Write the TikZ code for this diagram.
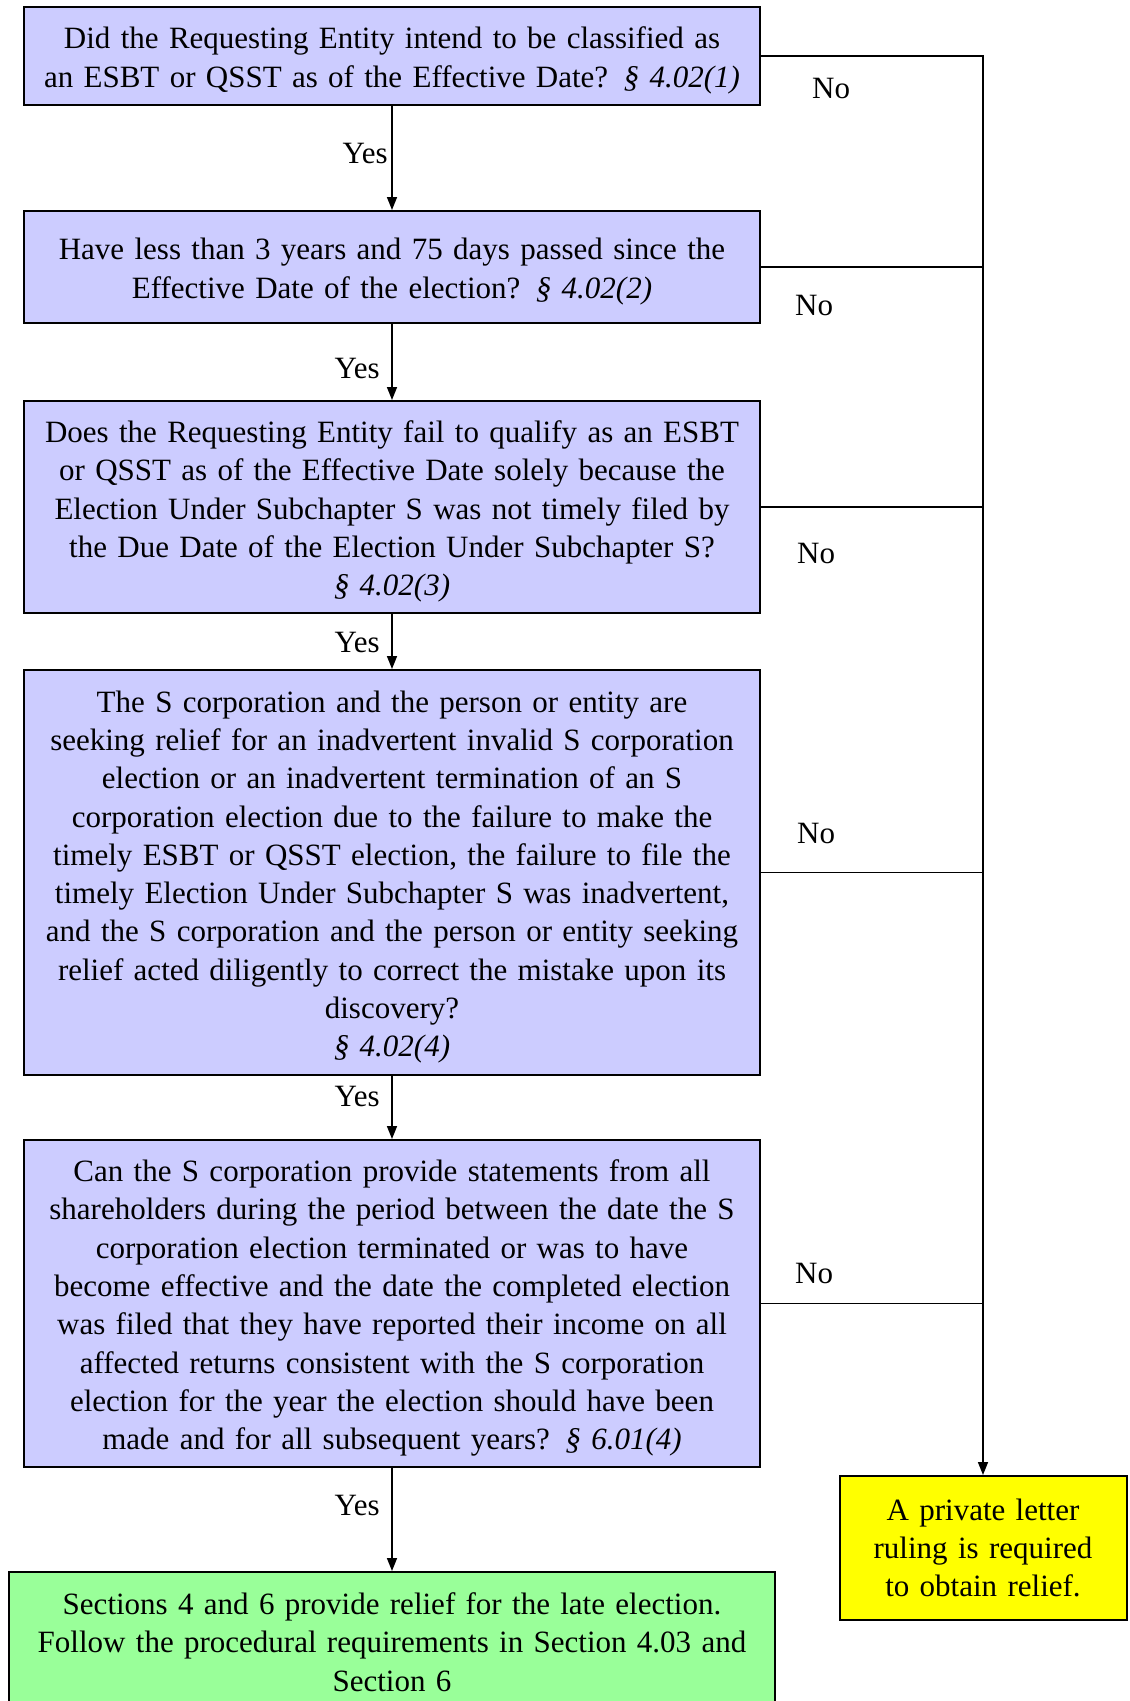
\documentclass[tikz,border=0pt]{standalone}
\usepackage{fontspec}
\setmainfont{Liberation Serif}
\usetikzlibrary{arrows.meta}
\definecolor{qblue}{HTML}{CCCCFF}
\definecolor{okgreen}{HTML}{99FF99}
\definecolor{plryellow}{HTML}{FFFF00}
\tikzset{
  txt/.style={font=\fontsize{31}{38.3}\selectfont},
  qbox/.style={draw=black, line width=2pt, fill=qblue, minimum width=736pt, inner sep=0pt},
  qtext/.style={txt, text width=730pt, align=center, inner sep=0pt, yshift=-4.5pt},
  endbox/.style={txt, draw=black, line width=2pt, align=center, inner sep=0pt},
  lbl/.style={txt, inner sep=0pt},
  conn/.style={draw=black, line width=1.6pt},
  arr/.style={conn, -{Triangle[length=13pt,width=10pt]}}
}
\begin{document}
\begin{tikzpicture}[x=1pt,y=-1pt]
\useasboundingbox (0,0) rectangle (1130,1701);
\node[qbox, minimum height=98pt] (b1) at (392,56) {};
\node[qtext] (t1) at (b1.center) {Did the Requesting Entity intend to be classified as\\an ESBT or QSST as of the Effective Date? \textit{§ 4.02(1)}};
\node[qbox, minimum height=112pt] (b2) at (392,267) {};
\node[qtext] (t2) at (b2.center) {Have less than 3 years and 75 days passed since the\\Effective Date of the election? \textit{§ 4.02(2)}};
\node[qbox, minimum height=212pt] (b3) at (392,507) {};
\node[qtext] (t3) at (b3.center) {Does the Requesting Entity fail to qualify as an ESBT\\or QSST as of the Effective Date solely because the\\Election Under Subchapter S was not timely filed by\\the Due Date of the Election Under Subchapter S?\\\textit{§ 4.02(3)}};
\node[qbox, minimum height=405pt] (b4) at (392,872.5) {};
\node[qtext] (t4) at (b4.center) {The S corporation and the person or entity are\\seeking relief for an inadvertent invalid S corporation\\election or an inadvertent termination of an S\\corporation election due to the failure to make the\\timely ESBT or QSST election, the failure to file the\\timely Election Under Subchapter S was inadvertent,\\and the S corporation and the person or entity seeking\\relief acted diligently to correct the mistake upon its\\discovery?\\\textit{§ 4.02(4)}};
\node[qbox, minimum height=327pt] (b5) at (392,1303.5) {};
\node[qtext] (t5) at (b5.center) {Can the S corporation provide statements from all\\shareholders during the period between the date the S\\corporation election terminated or was to have\\become effective and the date the completed election\\was filed that they have reported their income on all\\affected returns consistent with the S corporation\\election for the year the election should have been\\made and for all subsequent years? \textit{§ 6.01(4)}};
\node[endbox, fill=okgreen, minimum width=766pt, text width=760pt, minimum height=140pt] (ok) at (392,1642) {Sections 4 and 6 provide relief for the late election.\\Follow the procedural requirements in Section 4.03 and\\Section 6};
\node[endbox, fill=plryellow, minimum width=287pt, text width=280pt, minimum height=144pt] (plr) at (983,1548) {A private letter\\ruling is required\\to obtain relief.};
% Yes connectors
\draw[arr] (b1) -- (b2);
\draw[arr] (b2) -- (b3);
\draw[arr] (b3) -- (b4);
\draw[arr] (b4) -- (b5);
\draw[arr] (b5) -- (ok);
% No connectors
\draw[arr] (b1.east) -| (plr.north);
\draw[conn] (b2.east) -- (b2.east -| plr.north);
\draw[conn] (b3.east) -- (b3.east -| plr.north);
\draw[conn] (b4.east) -- (b4.east -| plr.north);
\draw[conn] (b5.east) -- (b5.east -| plr.north);
% labels
\node[lbl, anchor=base east] (y1) at (388,163) {Yes};
\node[lbl, anchor=base east] (y2) at (380,378) {Yes};
\node[lbl, anchor=base east] (y3) at (380,652) {Yes};
\node[lbl, anchor=base east] (y4) at (380,1106) {Yes};
\node[lbl, anchor=base east] (y5) at (380,1515) {Yes};
\node[lbl, anchor=base west] (n1) at (812,98) {No};
\node[lbl, anchor=base west] (n2) at (795,315) {No};
\node[lbl, anchor=base west] (n3) at (797,563) {No};
\node[lbl, anchor=base west] (n4) at (797,843) {No};
\node[lbl, anchor=base west] (n5) at (795,1283) {No};
\end{tikzpicture}
\end{document}
